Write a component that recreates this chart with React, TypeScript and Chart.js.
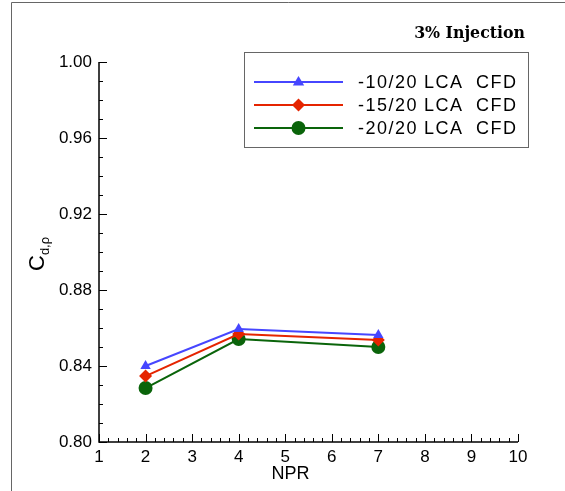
import React, { useEffect, useRef } from "react";
import { Chart, registerables } from "chart.js";

Chart.register(...registerables);

const npr = [2, 4, 7];
const seriesNames = ["-10/20 LCA  CFD", "-15/20 LCA  CFD", "-20/20 LCA  CFD"];
const cfd10 = [0.840, 0.8595, 0.8563];
const cfd15 = [0.8347, 0.8568, 0.8537];
const cfd20 = [0.8284, 0.8542, 0.8500];
const yTicks = [0.8, 0.84, 0.88, 0.92, 0.96, 1.0];
const xTicks = [1, 2, 3, 4, 5, 6, 7, 8, 9, 10];
const titleText = "3% Injection";
const xTitle = "NPR";

const colors = ["#4646ff", "#e52400", "#0a640a"];
const styles = ["triangle", "rectRot", "circle"];
const radii = [6, 6.5, 7];

export default function App() {
  const ref = useRef<HTMLCanvasElement | null>(null);
  useEffect(() => {
    const canvas = ref.current!;
    const all = [cfd10, cfd15, cfd20];
    const decor = {
      id: "decor",
      afterDraw(chart: any) {
        const ctx = chart.ctx as CanvasRenderingContext2D;
        const xs = chart.scales.x;
        const ys = chart.scales.y;
        const left = xs.left;
        const right = xs.right;
        const top = ys.top;
        const bottom = ys.bottom;
        ctx.save();
        // frame lines of the figure
        ctx.strokeStyle = "#666";
        ctx.lineWidth = 1;
        ctx.beginPath();
        ctx.moveTo(11.5, 491);
        ctx.lineTo(11.5, 2.5);
        ctx.lineTo(565, 2.5);
        ctx.stroke();
        // axes
        ctx.strokeStyle = "#000";
        ctx.lineWidth = 1.5;
        ctx.beginPath();
        ctx.moveTo(left, top);
        ctx.lineTo(left, bottom);
        ctx.lineTo(right, bottom);
        ctx.stroke();
        ctx.lineWidth = 1;
        ctx.beginPath();
        for (let v = 0.8; v <= 1.0001; v += 0.01) {
          const p = Math.round(ys.getPixelForValue(v)) + 0.5;
          const major = Math.abs(Math.round(v * 100) % 4) === 0;
          ctx.moveTo(left, p);
          ctx.lineTo(left + (major ? 8 : 4), p);
        }
        for (let i = 0; i <= 45; i++) {
          const v = 1 + i * 0.2;
          const p = Math.round(xs.getPixelForValue(v)) + 0.5;
          const major = i % 5 === 0;
          ctx.moveTo(p, bottom);
          ctx.lineTo(p, bottom - (major ? 8 : 4));
        }
        ctx.stroke();
        // x title
        ctx.fillStyle = "#000";
        ctx.font = "18px 'Liberation Sans', Arial, sans-serif";
        ctx.textAlign = "center";
        ctx.textBaseline = "middle";
        ctx.fillText(xTitle, (left + right) / 2 - 18, 474);
        // y title C_{d,ρ}
        ctx.save();
        ctx.translate(44, 271);
        ctx.rotate(-Math.PI / 2);
        ctx.textAlign = "left";
        ctx.textBaseline = "alphabetic";
        ctx.font = "22px 'Liberation Sans', Arial, sans-serif";
        ctx.fillText("C", 0, 0);
        const cw = ctx.measureText("C").width;
        ctx.font = "13px 'Liberation Sans', Arial, sans-serif";
        ctx.fillText("d,ρ", cw, 5);
        ctx.restore();
        // title fitted to its width in the reference
        let fs = 16;
        ctx.font = `bold ${fs}px 'DejaVu Serif', serif`;
        const tw = ctx.measureText(titleText).width;
        fs = (fs * 111) / tw;
        ctx.font = `bold ${fs}px 'DejaVu Serif', serif`;
        ctx.textAlign = "right";
        ctx.textBaseline = "alphabetic";
        ctx.fillText(titleText, 525, 38);
        // legend
        ctx.strokeStyle = "#666";
        ctx.lineWidth = 1;
        ctx.strokeRect(244.5, 52.5, 284, 95);
        const rows = [82, 105, 128];
        const segX = [358, 424, 476];
        for (let i = 0; i < 3; i++) {
          ctx.strokeStyle = colors[i];
          ctx.lineWidth = 2;
          ctx.beginPath();
          ctx.moveTo(254, rows[i]);
          ctx.lineTo(343, rows[i]);
          ctx.stroke();
          ctx.fillStyle = colors[i];
          ctx.beginPath();
          const cx = 298.5;
          const cy = rows[i];
          const r = radii[i];
          if (i === 0) {
            ctx.moveTo(cx, cy - r);
            ctx.lineTo(cx + r * 0.95, cy + r * 0.6);
            ctx.lineTo(cx - r * 0.95, cy + r * 0.6);
            ctx.closePath();
          } else if (i === 1) {
            ctx.moveTo(cx, cy - r);
            ctx.lineTo(cx + r, cy);
            ctx.lineTo(cx, cy + r);
            ctx.lineTo(cx - r, cy);
            ctx.closePath();
          } else {
            ctx.arc(cx, cy, r, 0, Math.PI * 2);
          }
          ctx.fill();
          ctx.fillStyle = "#000";
          ctx.font = "18px 'Liberation Sans', Arial, sans-serif";
          (ctx as any).letterSpacing = "1.5px";
          ctx.textAlign = "left";
          ctx.textBaseline = "middle";
          const parts = seriesNames[i].split(/\s+/);
          parts.forEach((p, k) => ctx.fillText(p, segX[k], rows[i] + 1));
          (ctx as any).letterSpacing = "0px";
        }
        ctx.restore();
      },
    };
    const chart = new Chart(canvas, {
      type: "line",
      data: {
        datasets: all.map((vals, i) => ({
          label: seriesNames[i],
          data: npr.map((x, j) => ({ x, y: vals[j] })),
          borderColor: colors[i],
          backgroundColor: colors[i],
          borderWidth: 2,
          pointStyle: styles[i] as any,
          pointRadius: radii[i],
          pointBorderWidth: 0,
          tension: 0,
        })),
      },
      options: {
        animation: false,
        responsive: false,
        layout: { padding: { left: 0, top: 62, right: 47, bottom: 0 } },
        plugins: { legend: { display: false }, tooltip: { enabled: false } },
        scales: {
          x: {
            type: "linear",
            min: 1,
            max: 10,
            grid: { display: false, drawTicks: false },
            border: { display: false },
            afterBuildTicks: (s: any) => {
              s.ticks = xTicks.map((v) => ({ value: v }));
            },
            afterFit: (s: any) => {
              s.height = 49;
            },
            ticks: {
              color: "#000",
              padding: 5,
              font: { family: "'Liberation Sans', Arial, sans-serif", size: 17 },
              callback: (v: any) => String(v),
            },
          },
          y: {
            type: "linear",
            min: 0.8,
            max: 1.0,
            grid: { display: false, drawTicks: false },
            border: { display: false },
            afterBuildTicks: (s: any) => {
              s.ticks = yTicks.map((v) => ({ value: v }));
            },
            afterFit: (s: any) => {
              s.width = 99;
            },
            ticks: {
              color: "#000",
              padding: 7,
              font: { family: "'Liberation Sans', Arial, sans-serif", size: 17 },
              callback: (v: any) => Number(v).toFixed(2),
            },
          },
        },
      },
      plugins: [decor],
    });
    return () => chart.destroy();
  }, []);
  return (
    <div style={{ position: "absolute", left: 0, top: 0, width: 565, height: 491, background: "#fff" }}>
      <canvas ref={ref} width={565} height={491} style={{ display: "block" }} />
    </div>
  );
}
